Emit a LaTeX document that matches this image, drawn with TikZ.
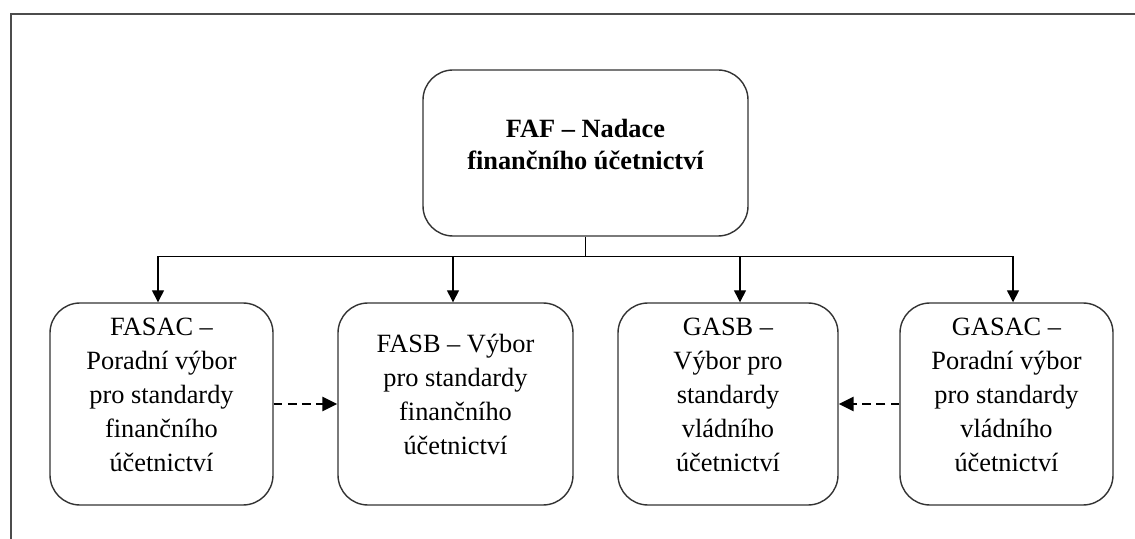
\documentclass[tikz,border=0pt]{standalone}
\usepackage{fontspec}
\setmainfont{Liberation Serif}
\usepackage{tikz}
\usetikzlibrary{shapes,arrows,arrows.meta,positioning,calc}

\begin{document}
\begin{tikzpicture}[
    org box/.style={rectangle, rounded corners=0.6cm, draw=black!80, line width=0.8pt, inner sep=0pt},
    main box/.style={org box, minimum width=6.5cm, minimum height=3.32cm},
    unit box/.style={org box, minimum height=4.04cm},
    box text/.style={align=center, inner sep=0pt, font=\fontsize{15}{19.35}\selectfont},
    main text/.style={box text, font=\fontsize{15}{18.2}\selectfont\bfseries},
    arrow/.style={-{Triangle[length=0.24cm, width=0.24cm]}, line width=0.8pt},
    dash arrow/.style={-{Triangle[length=0.3cm, width=0.28cm]}, line width=1.6pt, dash pattern=on 5pt off 3pt},
    frame/.style={draw=black!70, line width=1.1pt}
]
    \useasboundingbox (0,0) rectangle (22.7,-10.78);

    % Frame (top and left edge only)
    \draw[frame] (0.22,-10.78) -- (0.22,-0.28) -- (22.7,-0.28);

    % Foundation (top)
    \node[main box] (faf) at (11.71,-3.06) {};
    \node[main text] (faf text) at ([yshift=0.16cm]faf.center) {FAF -- Nadace\\finančního účetnictví};

    % Boards and advisory councils (bottom row)
    \node[unit box, minimum width=4.46cm] (fasac) at (3.23,-8.08) {};
    \node[unit box, minimum width=4.7cm] (fasb) at (9.11,-8.08) {};
    \node[unit box, minimum width=4.4cm] (gasb) at (14.56,-8.08) {};
    \node[unit box, minimum width=4.26cm] (gasac) at (20.13,-8.08) {};

    % Box texts (set a bit above the centre)
    \node[box text] (fasac text) at ([yshift=0.18cm]fasac.center) {FASAC --\\Poradní výbor\\pro standardy\\finančního\\účetnictví};
    \node[box text] (fasb text) at ([yshift=0.2cm]fasb.center) {FASB -- Výbor\\pro standardy\\finančního\\účetnictví};
    \node[box text] (gasb text) at ([yshift=0.18cm]gasb.center) {GASB --\\Výbor pro\\standardy\\vládního\\účetnictví};
    \node[box text] (gasac text) at ([yshift=0.18cm]gasac.center) {GASAC --\\Poradní výbor\\pro standardy\\vládního\\účetnictví};

    % Tree connectors
    \coordinate (bus) at ($(faf.south)+(0,-0.4)$);
    \draw[line width=0.8pt] (faf.south) -- (bus);
    \draw[arrow] (bus) -| ([xshift=-0.07cm]fasac.north);
    \draw[arrow] (bus) -| ([xshift=-0.05cm]fasb.north);
    \draw[arrow] (bus) -| ([xshift=0.24cm]gasb.north);
    \draw[arrow] (bus) -| ([xshift=0.13cm]gasac.north);

    % Advisory links (dashed)
    \draw[dash arrow] (fasac.east) -- (fasb.west);
    \draw[dash arrow] (gasac.west) -- (gasb.east);
\end{tikzpicture}
\end{document}
